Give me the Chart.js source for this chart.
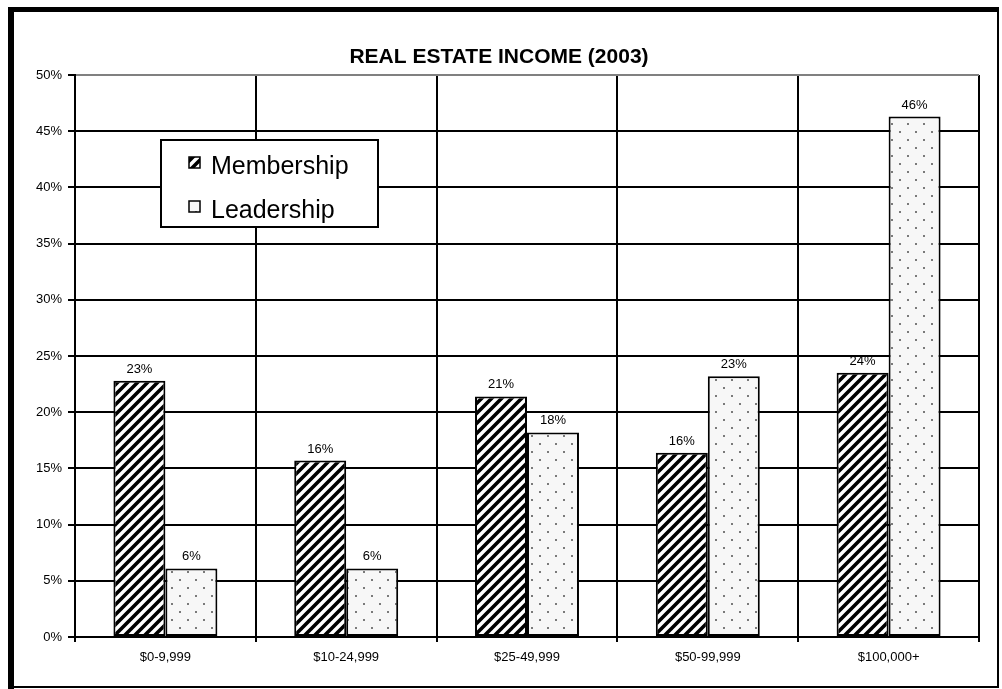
<!DOCTYPE html>
<html>
<head>
<meta charset="utf-8">
<script src="https://cdn.jsdelivr.net/npm/chart.js@4.4.1/dist/chart.umd.min.js"></script>
<style>
  html, body { margin: 0; padding: 0; background: #fff; }
  #wrap { width: 1002px; height: 689px; }
</style>
</head>
<body>
<div id="wrap"><canvas id="income" width="1002" height="689"></canvas></div>
<script>
const categories = ['$0-9,999', '$10-24,999', '$25-49,999', '$50-99,999', '$100,000+'];
const seriesNames = ['Membership', 'Leadership'];
const membership = [22.8, 15.7, 21.4, 16.4, 23.5];
const leadership = [6.1, 6.1, 18.2, 23.2, 46.3];
const yMax = 50;
const yStep = 5;
const chartTitle = 'REAL ESTATE INCOME (2003)';

const FONT = 'Arial, "Liberation Sans", sans-serif';
const canvas = document.getElementById('income');
const ctx = canvas.getContext('2d');

// diagonal black/white hatch
function makeHatch() {
    const n = 10;
    const t = document.createElement('canvas');
    t.width = n; t.height = n;
    const g = t.getContext('2d');
    g.fillStyle = '#fff';
    g.fillRect(0, 0, n, n);
    g.strokeStyle = '#000';
    g.lineWidth = 3.6;
    g.beginPath();
    g.moveTo(-2, n + 2); g.lineTo(n + 2, -2);
    g.moveTo(-2, 2); g.lineTo(2, -2);
    g.moveTo(n - 2, n + 2); g.lineTo(n + 2, n - 2);
    g.stroke();
    return ctx.createPattern(t, 'repeat');
}

// sparse grey dots on near-white
function makeDots() {
    const t = document.createElement('canvas');
    t.width = 16; t.height = 16;
    const g = t.getContext('2d');
    g.fillStyle = '#f7f7f7';
    g.fillRect(0, 0, 16, 16);
    g.fillStyle = '#7a7a7a';
    g.fillRect(3, 3, 2, 2);
    g.fillRect(11, 11, 2, 2);
    return ctx.createPattern(t, 'repeat');
}

const hatch = makeHatch();
const dots = makeDots();

const framePlugin = {
    id: 'frame',
    beforeDraw(chart) {
        const c = chart.ctx;
        c.save();
        c.fillStyle = '#fff';
        c.fillRect(0, 0, chart.width, chart.height);
        c.fillStyle = '#000';
        c.fillRect(8, 7, 6, 682);
        c.fillRect(8, 7, 991, 5);
        c.fillRect(8, 686, 991, 2);
        c.fillRect(997, 7, 2, 681);
        c.restore();
    }
};

const valueLabels = {
    id: 'valueLabels',
    afterDatasetsDraw(chart) {
        const c = chart.ctx;
        c.save();
        c.font = '13px ' + FONT;
        c.fillStyle = '#000';
        c.textAlign = 'center';
        c.textBaseline = 'alphabetic';
        chart.data.datasets.forEach((ds, i) => {
            chart.getDatasetMeta(i).data.forEach((bar, j) => {
                c.fillText(ds.data[j].toFixed(0) + '%', bar.x, bar.y - 8);
            });
        });
        c.restore();
    }
};

const titleAndLegend = {
    id: 'titleAndLegend',
    afterDraw(chart) {
        const c = chart.ctx;
        c.save();
        c.fillStyle = '#000';
        c.textAlign = 'center';
        c.textBaseline = 'alphabetic';
        c.font = 'bold 21px ' + FONT;
        c.fillText(chartTitle, 499, 63);

        // legend box
        const bx = 161, by = 140, bw = 217, bh = 87;
        c.fillStyle = '#fff';
        c.fillRect(bx, by, bw, bh);
        c.strokeStyle = '#000';
        c.lineWidth = 2;
        c.strokeRect(bx, by, bw, bh);

        const baselines = [174, 218];
        chart.data.datasets.forEach((ds, i) => {
            const base = baselines[i];
            c.fillStyle = ds.backgroundColor;
            c.fillRect(189, base - 17, 11, 11);
            c.lineWidth = 1.5;
            c.strokeStyle = '#000';
            c.strokeRect(189, base - 17, 11, 11);
            c.fillStyle = '#000';
            c.textAlign = 'left';
            c.font = '25px ' + FONT;
            c.fillText(ds.label, 211, base);
        });
        c.restore();
    }
};

new Chart(canvas, {
    type: 'bar',
    data: {
        labels: categories,
        datasets: [
            {
                label: seriesNames[0],
                data: membership,
                backgroundColor: hatch,
                borderColor: '#000',
                borderWidth: 2,
                borderSkipped: false
            },
            {
                label: seriesNames[1],
                data: leadership,
                backgroundColor: dots,
                borderColor: '#000',
                borderWidth: 2,
                borderSkipped: false
            }
        ]
    },
    options: {
        responsive: false,
        animation: false,
        devicePixelRatio: 1,
        categoryPercentage: 0.575,
        barPercentage: 1,
        layout: { padding: { left: 0, top: 75, right: 23, bottom: 0 } },
        plugins: {
            legend: { display: false },
            title: { display: false },
            tooltip: { enabled: false }
        },
        scales: {
            x: {
                grid: {
                    offset: true,
                    color: c => c.index === categories.length ? '#808080' : '#000',
                    tickColor: '#000',
                    tickLength: 5,
                    lineWidth: 2
                },
                border: { color: '#000', width: 2 },
                ticks: { color: '#000', font: { family: FONT, size: 13 }, padding: 8 },
                afterFit: s => { s.height = 52; }
            },
            y: {
                min: 0,
                max: yMax,
                ticks: {
                    stepSize: yStep,
                    color: '#000',
                    font: { family: FONT, size: 13 },
                    padding: 6,
                    callback: v => v + '%'
                },
                grid: {
                    color: c => (c.tick && c.tick.value === yMax) ? '#808080' : '#000',
                    tickColor: '#000',
                    tickLength: 7,
                    lineWidth: 2
                },
                border: { color: '#000', width: 2 },
                afterFit: s => { s.width = 75; }
            }
        }
    },
    plugins: [framePlugin, valueLabels, titleAndLegend]
});
</script>
</body>
</html>
